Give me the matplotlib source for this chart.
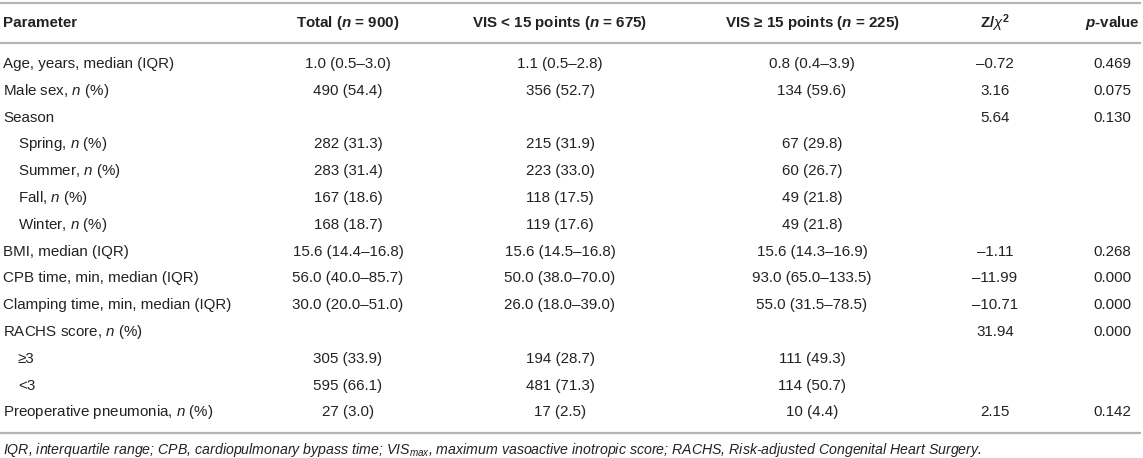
import matplotlib
matplotlib.use('Agg')
import matplotlib.pyplot as plt
import numpy as np

plt.rcParams['font.family'] = ['Liberation Sans', 'DejaVu Sans']
plt.rcParams['mathtext.fontset'] = 'custom'
plt.rcParams['mathtext.rm'] = 'Liberation Sans'
plt.rcParams['mathtext.it'] = 'Liberation Sans:italic'
plt.rcParams['mathtext.bf'] = 'Liberation Sans:bold'
plt.rcParams['mathtext.bfit'] = 'Liberation Sans:italic:bold'

# table content
headers = ['Parameter', r'Total ($\mathbfit{n}$ = 900)', r'VIS < 15 points ($\mathbfit{n}$ = 675)',
           r'VIS ≥ 15 points ($\mathbfit{n}$ = 225)', r'Z/$\chi^{\mathbf{2}}$', r'$\mathbfit{p}$-value']
labels = ['Age, years, median (IQR)', 'Male sex, $n$ (%)', 'Season', 'Spring, $n$ (%)',
          'Summer, $n$ (%)', 'Fall, $n$ (%)', 'Winter, $n$ (%)', 'BMI, median (IQR)',
          'CPB time, min, median (IQR)', 'Clamping time, min, median (IQR)', 'RACHS score, $n$ (%)',
          '≥3', '<3', 'Preoperative pneumonia, $n$ (%)']
sub_rows = {'Spring, $n$ (%)', 'Summer, $n$ (%)', 'Fall, $n$ (%)', 'Winter, $n$ (%)', '≥3', '<3'}
total = ['1.0 (0.5–3.0)', '490 (54.4)', '', '282 (31.3)', '283 (31.4)', '167 (18.6)', '168 (18.7)',
         '15.6 (14.4–16.8)', '56.0 (40.0–85.7)', '30.0 (20.0–51.0)', '', '305 (33.9)', '595 (66.1)', '27 (3.0)']
vis_low = ['1.1 (0.5–2.8)', '356 (52.7)', '', '215 (31.9)', '223 (33.0)', '118 (17.5)', '119 (17.6)',
           '15.6 (14.5–16.8)', '50.0 (38.0–70.0)', '26.0 (18.0–39.0)', '', '194 (28.7)', '481 (71.3)', '17 (2.5)']
vis_high = ['0.8 (0.4–3.9)', '134 (59.6)', '', '67 (29.8)', '60 (26.7)', '49 (21.8)', '49 (21.8)',
            '15.6 (14.3–16.9)', '93.0 (65.0–133.5)', '55.0 (31.5–78.5)', '', '111 (49.3)', '114 (50.7)', '10 (4.4)']
z_stat = ['–0.72', '3.16', '5.64', '', '', '', '', '–1.11', '–11.99', '–10.71', '31.94', '', '', '2.15']
p_val = ['0.469', '0.075', '0.130', '', '', '', '', '0.268', '0.000', '0.000', '0.000', '', '', '0.142']
footnote = ('IQR, interquartile range; CPB, cardiopulmonary bypass time; VIS$_{max}$, maximum vasoactive '
            'inotropic score; RACHS, Risk-adjusted Congenital Heart Surgery.')

W, H = 1143, 458
fig = plt.figure(figsize=(W / 100, H / 100), dpi=100)
ax = fig.add_axes([0, 0, 1, 1])
ax.set_xlim(0, W)
ax.set_ylim(H, 0)
ax.axis('off')

txt = '#222222'
rule = '#b4b4b4'
fs = 10.9
col_x = [3, 348, 560, 812, 995, 1112]

# rules
for y in (3, 43, 433):
    ax.plot([0, 1141], [y, y], color=rule, lw=1.6, solid_capstyle='butt')

# header
for i, h in enumerate(headers):
    ax.text(col_x[i], 23, h, ha='left' if i == 0 else 'center', va='center',
            fontsize=fs, fontweight='bold', color=txt)

row_y = 64 + 26.8 * np.arange(len(labels))
for k, y in enumerate(row_y):
    lab = labels[k]
    x0 = col_x[0] + (15 if lab in sub_rows else 0)
    ax.text(x0, y, lab, ha='left', va='center', fontsize=fs, color=txt)
    for j, col in enumerate([total, vis_low, vis_high, z_stat, p_val], start=1):
        if col[k]:
            ax.text(col_x[j], y, col[k], ha='center', va='center', fontsize=fs, color=txt)

ax.text(col_x[0], 450, footnote, ha='left', va='center', fontsize=10.2, style='italic', color=txt)

fig.savefig('out.png', dpi=100, facecolor='white')
